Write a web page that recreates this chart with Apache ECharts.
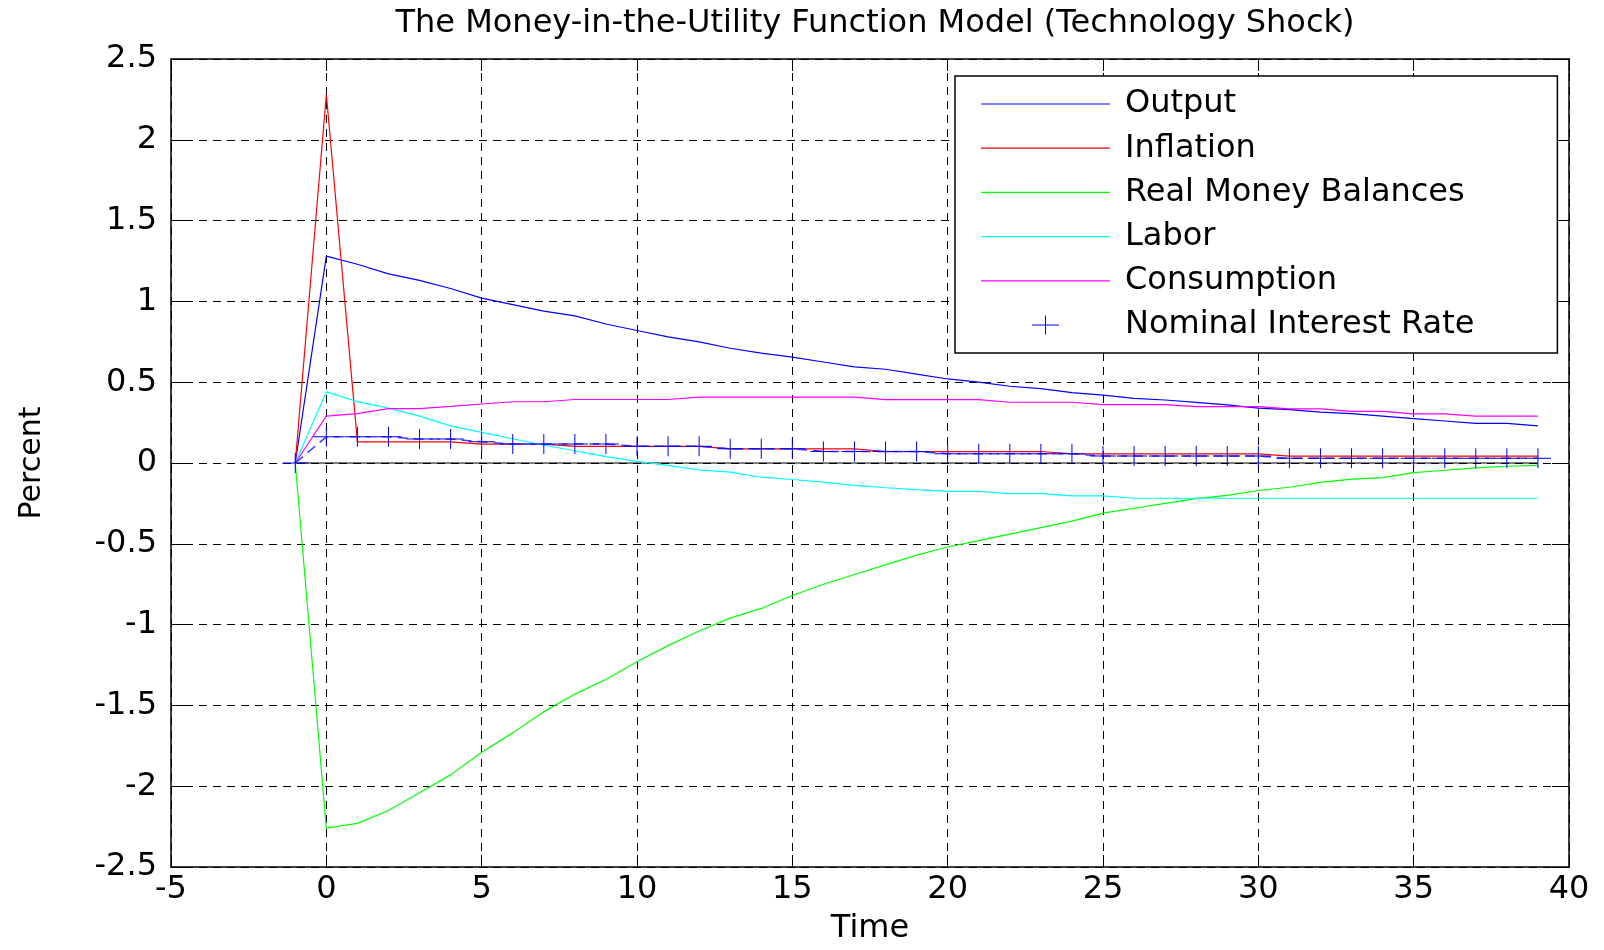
<!DOCTYPE html>
<html>
<head>
<meta charset="utf-8">
<script src="https://cdn.jsdelivr.net/npm/echarts@6/dist/echarts.min.js"></script>
<style>
html,body{margin:0;padding:0;background:#fff;}
#chart{width:1604px;height:950px;}
</style>
</head>
<body>
<div id="chart"></div>
<script>
// ---- data ----
const time = [-1, 0, 1, 2, 3, 4, 5, 6, 7, 8, 9, 10, 11, 12, 13, 14, 15, 16, 17, 18, 19,
  20, 21, 22, 23, 24, 25, 26, 27, 28, 29, 30, 31, 32, 33, 34, 35, 36, 37, 38, 39];
const output = [0, 1.28, 1.23, 1.17, 1.13, 1.08, 1.02, 0.98, 0.94, 0.91, 0.86, 0.82, 0.78, 0.75,
  0.71, 0.68, 0.655, 0.625, 0.595, 0.58, 0.55, 0.52, 0.50, 0.475, 0.46, 0.435, 0.42, 0.40, 0.39,
  0.375, 0.36, 0.34, 0.33, 0.315, 0.305, 0.29, 0.275, 0.26, 0.245, 0.245, 0.23];
const inflation = [0, 2.28, 0.131, 0.131, 0.131, 0.131, 0.117, 0.117, 0.117, 0.103, 0.103, 0.103,
  0.103, 0.103, 0.088, 0.088, 0.088, 0.088, 0.088, 0.071, 0.071, 0.071, 0.071, 0.071, 0.071,
  0.057, 0.057, 0.057, 0.057, 0.057, 0.057, 0.057, 0.043, 0.043, 0.043, 0.043, 0.043, 0.043,
  0.043, 0.043, 0.043];
const realMoney = [0, -2.26, -2.23, -2.15, -2.04, -1.93, -1.79, -1.67, -1.54, -1.43, -1.34, -1.23,
  -1.13, -1.04, -0.96, -0.90, -0.82, -0.75, -0.69, -0.63, -0.57, -0.52, -0.48, -0.44, -0.40,
  -0.36, -0.31, -0.28, -0.25, -0.22, -0.20, -0.17, -0.15, -0.12, -0.10, -0.09, -0.06, -0.045,
  -0.03, -0.02, -0.015];
const labor = [0, 0.44, 0.38, 0.34, 0.29, 0.23, 0.19, 0.15, 0.11, 0.076, 0.04, 0.01, -0.015,
  -0.043, -0.057, -0.088, -0.102, -0.118, -0.139, -0.153, -0.165, -0.176, -0.176, -0.19, -0.19,
  -0.204, -0.204, -0.218, -0.218, -0.218, -0.218, -0.218, -0.218, -0.218, -0.218, -0.218,
  -0.218, -0.218, -0.218, -0.218, -0.218];
const consumption = [0, 0.29, 0.305, 0.336, 0.336, 0.35, 0.365, 0.379, 0.379, 0.393, 0.393,
  0.393, 0.393, 0.408, 0.408, 0.408, 0.408, 0.408, 0.408, 0.392, 0.392, 0.392, 0.392, 0.376,
  0.376, 0.376, 0.361, 0.361, 0.361, 0.349, 0.349, 0.349, 0.335, 0.335, 0.32, 0.32, 0.304,
  0.304, 0.29, 0.29, 0.29];
const interest = [0, 0.162, 0.162, 0.162, 0.148, 0.148, 0.131, 0.117, 0.117, 0.117, 0.117,
  0.104, 0.104, 0.104, 0.088, 0.088, 0.088, 0.071, 0.071, 0.071, 0.071, 0.057, 0.057, 0.057,
  0.057, 0.057, 0.043, 0.043, 0.043, 0.043, 0.043, 0.043, 0.029, 0.029, 0.029, 0.029, 0.029,
  0.029, 0.029, 0.029, 0.029];
const zeroLineX = [-1, 39];
const zeroLineY = [0, 0];
const seriesNames = ['Output', 'Inflation', 'Real Money Balances', 'Labor', 'Consumption', 'Nominal Interest Rate'];
const xTicks = [-5, 0, 5, 10, 15, 20, 25, 30, 35, 40];
const yTicks = [-2.5, -2, -1.5, -1, -0.5, 0, 0.5, 1, 1.5, 2, 2.5];

// ---- chart ----
const FONT = 'DejaVu Sans';
const FS = 32;
const pair = (ys) => time.map((t, i) => [t, ys[i]]);
const plusPath = 'path://M0,9.5L26,9.5L26,10.5L0,10.5Z M12.5,0L13.5,0L13.5,20L12.5,20Z';
const plusLegend = 'path://M0,0L0.01,0L0.01,0.01Z M129,20L128.99,20L128.99,19.99Z ' +
  'M51,9.5L78,9.5L78,10.5L51,10.5Z M64,0.5L65,0.5L65,19.5L64,19.5Z';
const lineLegend = 'path://M0,0L0.01,0L0.01,0.01Z M129,20L128.99,20L128.99,19.99Z ' +
  'M0,9.4L129,9.4L129,10.6L0,10.6Z';

const chart = echarts.init(document.getElementById('chart'), null, {renderer: 'canvas'});
const gridLine = {show: true, lineStyle: {color: '#000', width: 1, type: [8, 6]}};
const xBase = {
  type: 'value', min: xTicks[0], max: xTicks[xTicks.length - 1], interval: 5
};
const yBase = {
  type: 'value', min: yTicks[0], max: yTicks[yTicks.length - 1], interval: 0.5
};
const lineSeries = (name, ys, color) => ({
  name, type: 'line', data: pair(ys), symbol: 'none',
  lineStyle: {color, width: 1.2}, itemStyle: {color}, z: 3
});

chart.setOption({
  animation: false,
  backgroundColor: '#fff',
  title: {
    text: 'The Money-in-the-Utility Function Model (Technology Shock)',
    left: 870, textAlign: 'center', top: 3,
    textStyle: {fontFamily: FONT, fontSize: FS, fontWeight: 'normal', color: '#000'}
  },
  grid: {left: 171, right: 35, top: 59, bottom: 77, containLabel: false},
  legend: {
    orient: 'vertical', left: 955, top: 76,
    padding: [12, 83, 12, 26],
    itemWidth: 129, itemHeight: 20, itemGap: 12.2,
    backgroundColor: '#fff', borderColor: '#000', borderWidth: 1.5,
    textStyle: {fontFamily: FONT, fontSize: FS, lineHeight: 30, color: '#000', padding: [0, 0, 0, 10]},
    data: seriesNames.map((n, i) => ({name: n, icon: i === 5 ? plusLegend : lineLegend})),
    selectedMode: false
  },
  xAxis: [
    Object.assign({}, xBase, {
      position: 'bottom',
      name: 'Time', nameLocation: 'middle', nameGap: 46,
      nameTextStyle: {fontFamily: FONT, fontSize: FS, color: '#000'},
      axisLine: {onZero: false, lineStyle: {color: '#000', width: 1.5}},
      axisTick: {inside: true, length: 12, lineStyle: {color: '#000'}},
      axisLabel: {fontFamily: FONT, fontSize: FS, color: '#000', margin: 7},
      splitLine: gridLine
    }),
    Object.assign({}, xBase, {
      position: 'top',
      axisLine: {onZero: false, lineStyle: {color: '#000', width: 1.5}},
      axisTick: {inside: true, length: 12, lineStyle: {color: '#000'}},
      axisLabel: {show: false}, splitLine: {show: false}
    })
  ],
  yAxis: [
    Object.assign({}, yBase, {
      position: 'left',
      name: 'Percent', nameLocation: 'middle', nameGap: 124, nameRotate: 90,
      nameTextStyle: {fontFamily: FONT, fontSize: 30, color: '#000'},
      axisLine: {onZero: false, lineStyle: {color: '#000', width: 1.5}},
      axisTick: {inside: true, length: 17, lineStyle: {color: '#000'}},
      axisLabel: {fontFamily: FONT, fontSize: FS, color: '#000', margin: 14},
      splitLine: gridLine
    }),
    Object.assign({}, yBase, {
      position: 'right',
      axisLine: {onZero: false, lineStyle: {color: '#000', width: 1.5}},
      axisTick: {inside: true, length: 17, lineStyle: {color: '#000'}},
      axisLabel: {show: false}, splitLine: {show: false}
    })
  ],
  series: [
    {
      name: 'zero', type: 'line', data: zeroLineX.map((x, i) => [x, zeroLineY[i]]),
      symbol: 'none', lineStyle: {color: '#000', width: 1.2}, z: 2, silent: true
    },
    lineSeries(seriesNames[0], output, '#0000ff'),
    lineSeries(seriesNames[1], inflation, '#ff0000'),
    lineSeries(seriesNames[2], realMoney, '#00ff00'),
    lineSeries(seriesNames[3], labor, '#00ffff'),
    lineSeries(seriesNames[4], consumption, '#ff00ff'),
    {
      name: seriesNames[5], type: 'line', data: pair(interest),
      symbol: plusPath, symbolSize: [26, 20], showSymbol: true,
      itemStyle: {color: '#0000ff'},
      lineStyle: {color: '#3a3aff', width: 1.5, type: [10, 6]}, z: 4
    }
  ]
});
</script>
</body>
</html>
